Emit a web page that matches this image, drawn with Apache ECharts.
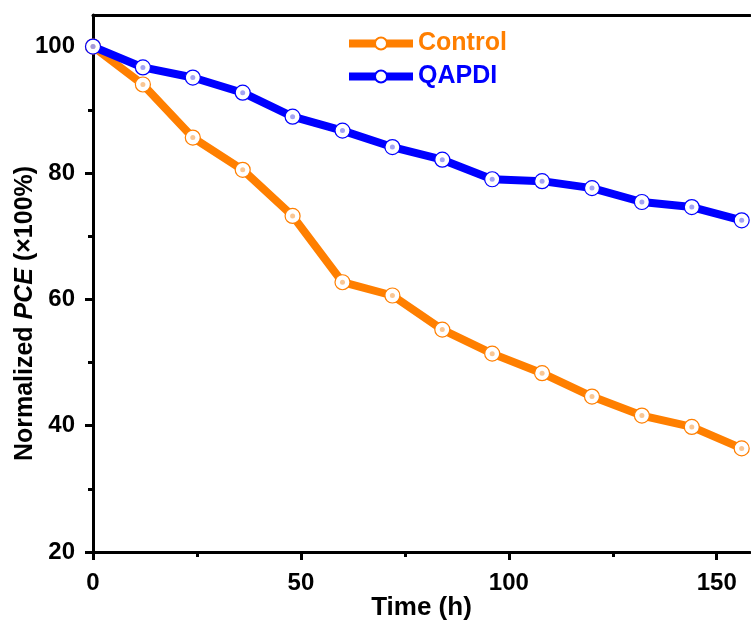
<!DOCTYPE html>
<html>
<head>
<meta charset="utf-8">
<script src="https://cdn.jsdelivr.net/npm/echarts@6/dist/echarts.min.js"></script>
<style>
  html, body { margin: 0; padding: 0; background: #fff; }
  #chart_1 { width: 751px; height: 621px; }
</style>
</head>
<body>
<div id="chart_1"></div>
<script>
//*************************************************************************************************data
var time_h = [0, 12, 24, 36, 48, 60, 72, 84, 96, 108, 120, 132, 144, 156];
var control_pce = [100, 94.0, 85.6, 80.5, 73.2, 62.7, 60.6, 55.2, 51.4, 48.3, 44.6, 41.6, 39.8, 36.4];
var qapdi_pce = [100, 96.7, 95.1, 92.7, 88.9, 86.7, 84.1, 82.1, 79.0, 78.7, 77.6, 75.4, 74.6, 72.5];
var x_major = [0, 50, 100, 150];
var x_minor = [25, 75, 125];
var y_major = [20, 40, 60, 80, 100];
var y_minor = [30, 50, 70, 90];

//*************************************************************************************************draw
var chart_1 = echarts.init(document.getElementById('chart_1'));

var font = 'Liberation Sans, Arial, sans-serif';
var orange = '#ff7f00';
var blue = '#0000ff';

function pairs(ys) {
    return time_h.map(function (t, i) { return [t, ys[i]]; });
}

function axis_base(min, max) {
    return {
        type: 'value',
        min: min,
        max: max,
        splitLine: { show: false },
        axisLine: { show: false },
        axisLabel: { show: false },
        axisTick: { show: false }
    };
}

// minor tick axes (no line, no labels)
var x_minor_axis = axis_base(0, 158);
x_minor_axis.position = 'bottom';
x_minor_axis.axisTick = { show: true, customValues: x_minor, length: 5, lineStyle: { color: '#000', width: 3 } };

var y_minor_axis = axis_base(20, 105);
y_minor_axis.position = 'left';
y_minor_axis.axisTick = { show: true, customValues: y_minor, length: 5, lineStyle: { color: '#000', width: 3 } };

// top frame line
var x_top_axis = axis_base(0, 158);
x_top_axis.position = 'top';
x_top_axis.axisLine = { show: true, onZero: false, lineStyle: { color: '#000', width: 3 } };

var option = {
    animation: false,
    grid: { left: 93, right: 1, top: 15, bottom: 69, containLabel: false, outerBoundsMode: 'none' },
    legend: {
        orient: 'vertical',
        left: 340,
        top: 26,
        itemWidth: 64,
        itemHeight: 15,
        itemGap: 8,
        lineStyle: { width: 8 },
        textStyle: { fontFamily: font, fontSize: 25, fontWeight: 'bold' },
        data: [
            { name: 'Control', textStyle: { color: orange } },
            { name: 'QAPDI', textStyle: { color: blue } }
        ]
    },
    xAxis: [{
        type: 'value',
        min: 0,
        max: 158,
        position: 'bottom',
        splitLine: { show: false },
        axisLine: { show: true, onZero: false, lineStyle: { color: '#000', width: 3 } },
        axisTick: { show: true, customValues: x_major, length: 8, lineStyle: { color: '#000', width: 3 } },
        axisLabel: { customValues: x_major, color: '#000', fontFamily: font, fontSize: 24, fontWeight: 'bold', margin: 19 },
        name: 'Time (h)',
        nameLocation: 'middle',
        nameGap: 43,
        nameMoveOverlap: false,
        nameTextStyle: { color: '#000', fontFamily: font, fontSize: 26, fontWeight: 'bold' }
    }, x_minor_axis, x_top_axis],
    yAxis: [{
        type: 'value',
        min: 20,
        max: 105,
        position: 'left',
        splitLine: { show: false },
        axisLine: { show: true, onZero: false, lineStyle: { color: '#000', width: 3 } },
        axisTick: { show: true, customValues: y_major, length: 8, lineStyle: { color: '#000', width: 3 } },
        axisLabel: { customValues: y_major, color: '#000', fontFamily: font, fontSize: 24, fontWeight: 'bold', margin: 18 },
        name: '{a|Normalized }{b|PCE}{a| (×100%)}',
        nameLocation: 'middle',
        nameGap: 55,
        nameMoveOverlap: false,
        nameTextStyle: {
            padding: [0, 60, 0, 0],
            rich: {
                a: { color: '#000', fontFamily: font, fontSize: 25, fontWeight: 'bold' },
                b: { color: '#000', fontFamily: font, fontSize: 25, fontWeight: 'bold', fontStyle: 'italic' }
            }
        }
    }, y_minor_axis],
    series: [{
        name: 'Control',
        type: 'line',
        data: pairs(control_pce),
        symbol: 'circle',
        symbolSize: 15,
        lineStyle: { color: orange, width: 8 },
        itemStyle: { color: '#fff', borderColor: orange, borderWidth: 1.2 },
        z: 2
    }, {
        name: 'QAPDI',
        type: 'line',
        data: pairs(qapdi_pce),
        symbol: 'circle',
        symbolSize: 15,
        lineStyle: { color: blue, width: 8 },
        itemStyle: { color: '#fff', borderColor: blue, borderWidth: 1.2 },
        z: 3
    }, {
        name: 'control_dot',
        type: 'scatter',
        data: pairs(control_pce),
        symbolSize: 5,
        itemStyle: { color: '#f8b878' },
        z: 4
    }, {
        name: 'qapdi_dot',
        type: 'scatter',
        data: pairs(qapdi_pce),
        symbolSize: 5,
        itemStyle: { color: '#8c8cf0' },
        z: 5
    }]
};

chart_1.setOption(option);
</script>
</body>
</html>
